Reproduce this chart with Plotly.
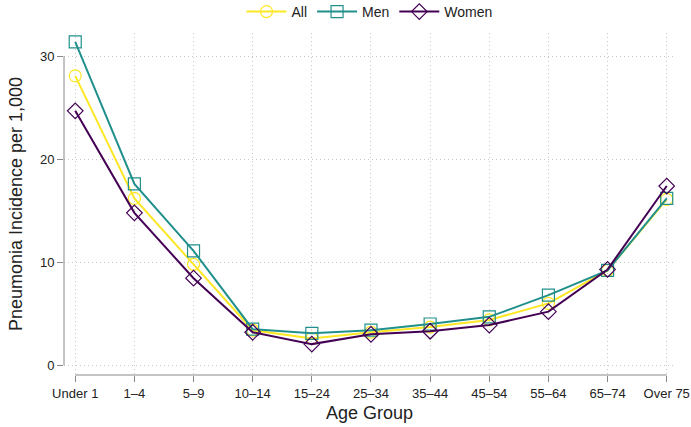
import plotly.graph_objects as go

categories = ["Under 1", "1\u20134", "5\u20139", "10\u201314", "15\u201324", "25\u201334",
              "35\u201344", "45\u201354", "55\u201364", "65\u201374", "Over 75"]
all_vals = [28.1, 16.2, 9.8, 3.4, 2.6, 3.2, 3.7, 4.4, 6.0, 9.2, 16.1]
men_vals = [31.4, 17.6, 11.1, 3.5, 3.1, 3.4, 4.0, 4.7, 6.8, 9.2, 16.2]
women_vals = [24.7, 14.8, 8.45, 3.2, 2.05, 3.0, 3.3, 3.9, 5.2, 9.3, 17.4]
y_ticks = [0, 10, 20, 30]

series = [
    ("All", all_vals, "#FDE725", "circle-open"),
    ("Men", men_vals, "#21908C", "square-open"),
    ("Women", women_vals, "#440154", "diamond-open"),
]

font = "Liberation Sans, Arial, sans-serif"
fig = go.Figure()
for name, vals, color, sym in series:
    fig.add_trace(go.Scatter(
        x=categories, y=vals, name=name, mode="lines+markers",
        line=dict(color=color, width=2),
        marker=dict(symbol=sym, size=12, color=color, line=dict(width=1.2, color=color)),
    ))

grid = "#c8c8c8"
fig.update_layout(
    width=691, height=427,
    margin=dict(l=64, r=16, t=33, b=52),
    plot_bgcolor="white", paper_bgcolor="white",
    font=dict(family=font, size=13, color="#222"),
    legend=dict(orientation="h", x=0.5, xanchor="center", yref="container",
                y=0.972, yanchor="middle", font=dict(size=14), itemwidth=40,
                traceorder="normal"),
    xaxis=dict(type="category", range=[-0.19, 10.14], showline=False, automargin=False,
               showgrid=True, gridcolor=grid, griddash="1px,3px", gridwidth=1,
               ticks="outside", ticklen=6, tickcolor="#888", zeroline=False,
               tickfont=dict(size=13),
               title=dict(text="Age Group", font=dict(size=18), standoff=6)),
    yaxis=dict(range=[-0.95, 32.26], tickvals=y_ticks, showline=False, automargin=False,
               showgrid=True, gridcolor=grid, griddash="1px,3px", gridwidth=1,
               ticks="outside", ticklen=6, tickcolor="#888", zeroline=False,
               tickfont=dict(size=13),
               title=dict(text="Pneumonia Incidence per 1,000", font=dict(size=18), standoff=12)),
)
# R-style axis lines spanning only the tick range
fig.add_shape(type="line", xref="x", yref="paper", x0=0, x1=len(categories) - 1,
              y0=0, y1=0, line=dict(color="#888", width=1))
fig.add_shape(type="line", xref="paper", yref="y", x0=0, x1=0,
              y0=y_ticks[0], y1=y_ticks[-1], line=dict(color="#888", width=1))
fig.write_html("out.html", config={"displayModeBar": False},
               post_script="document.body.style.margin='0px';")
